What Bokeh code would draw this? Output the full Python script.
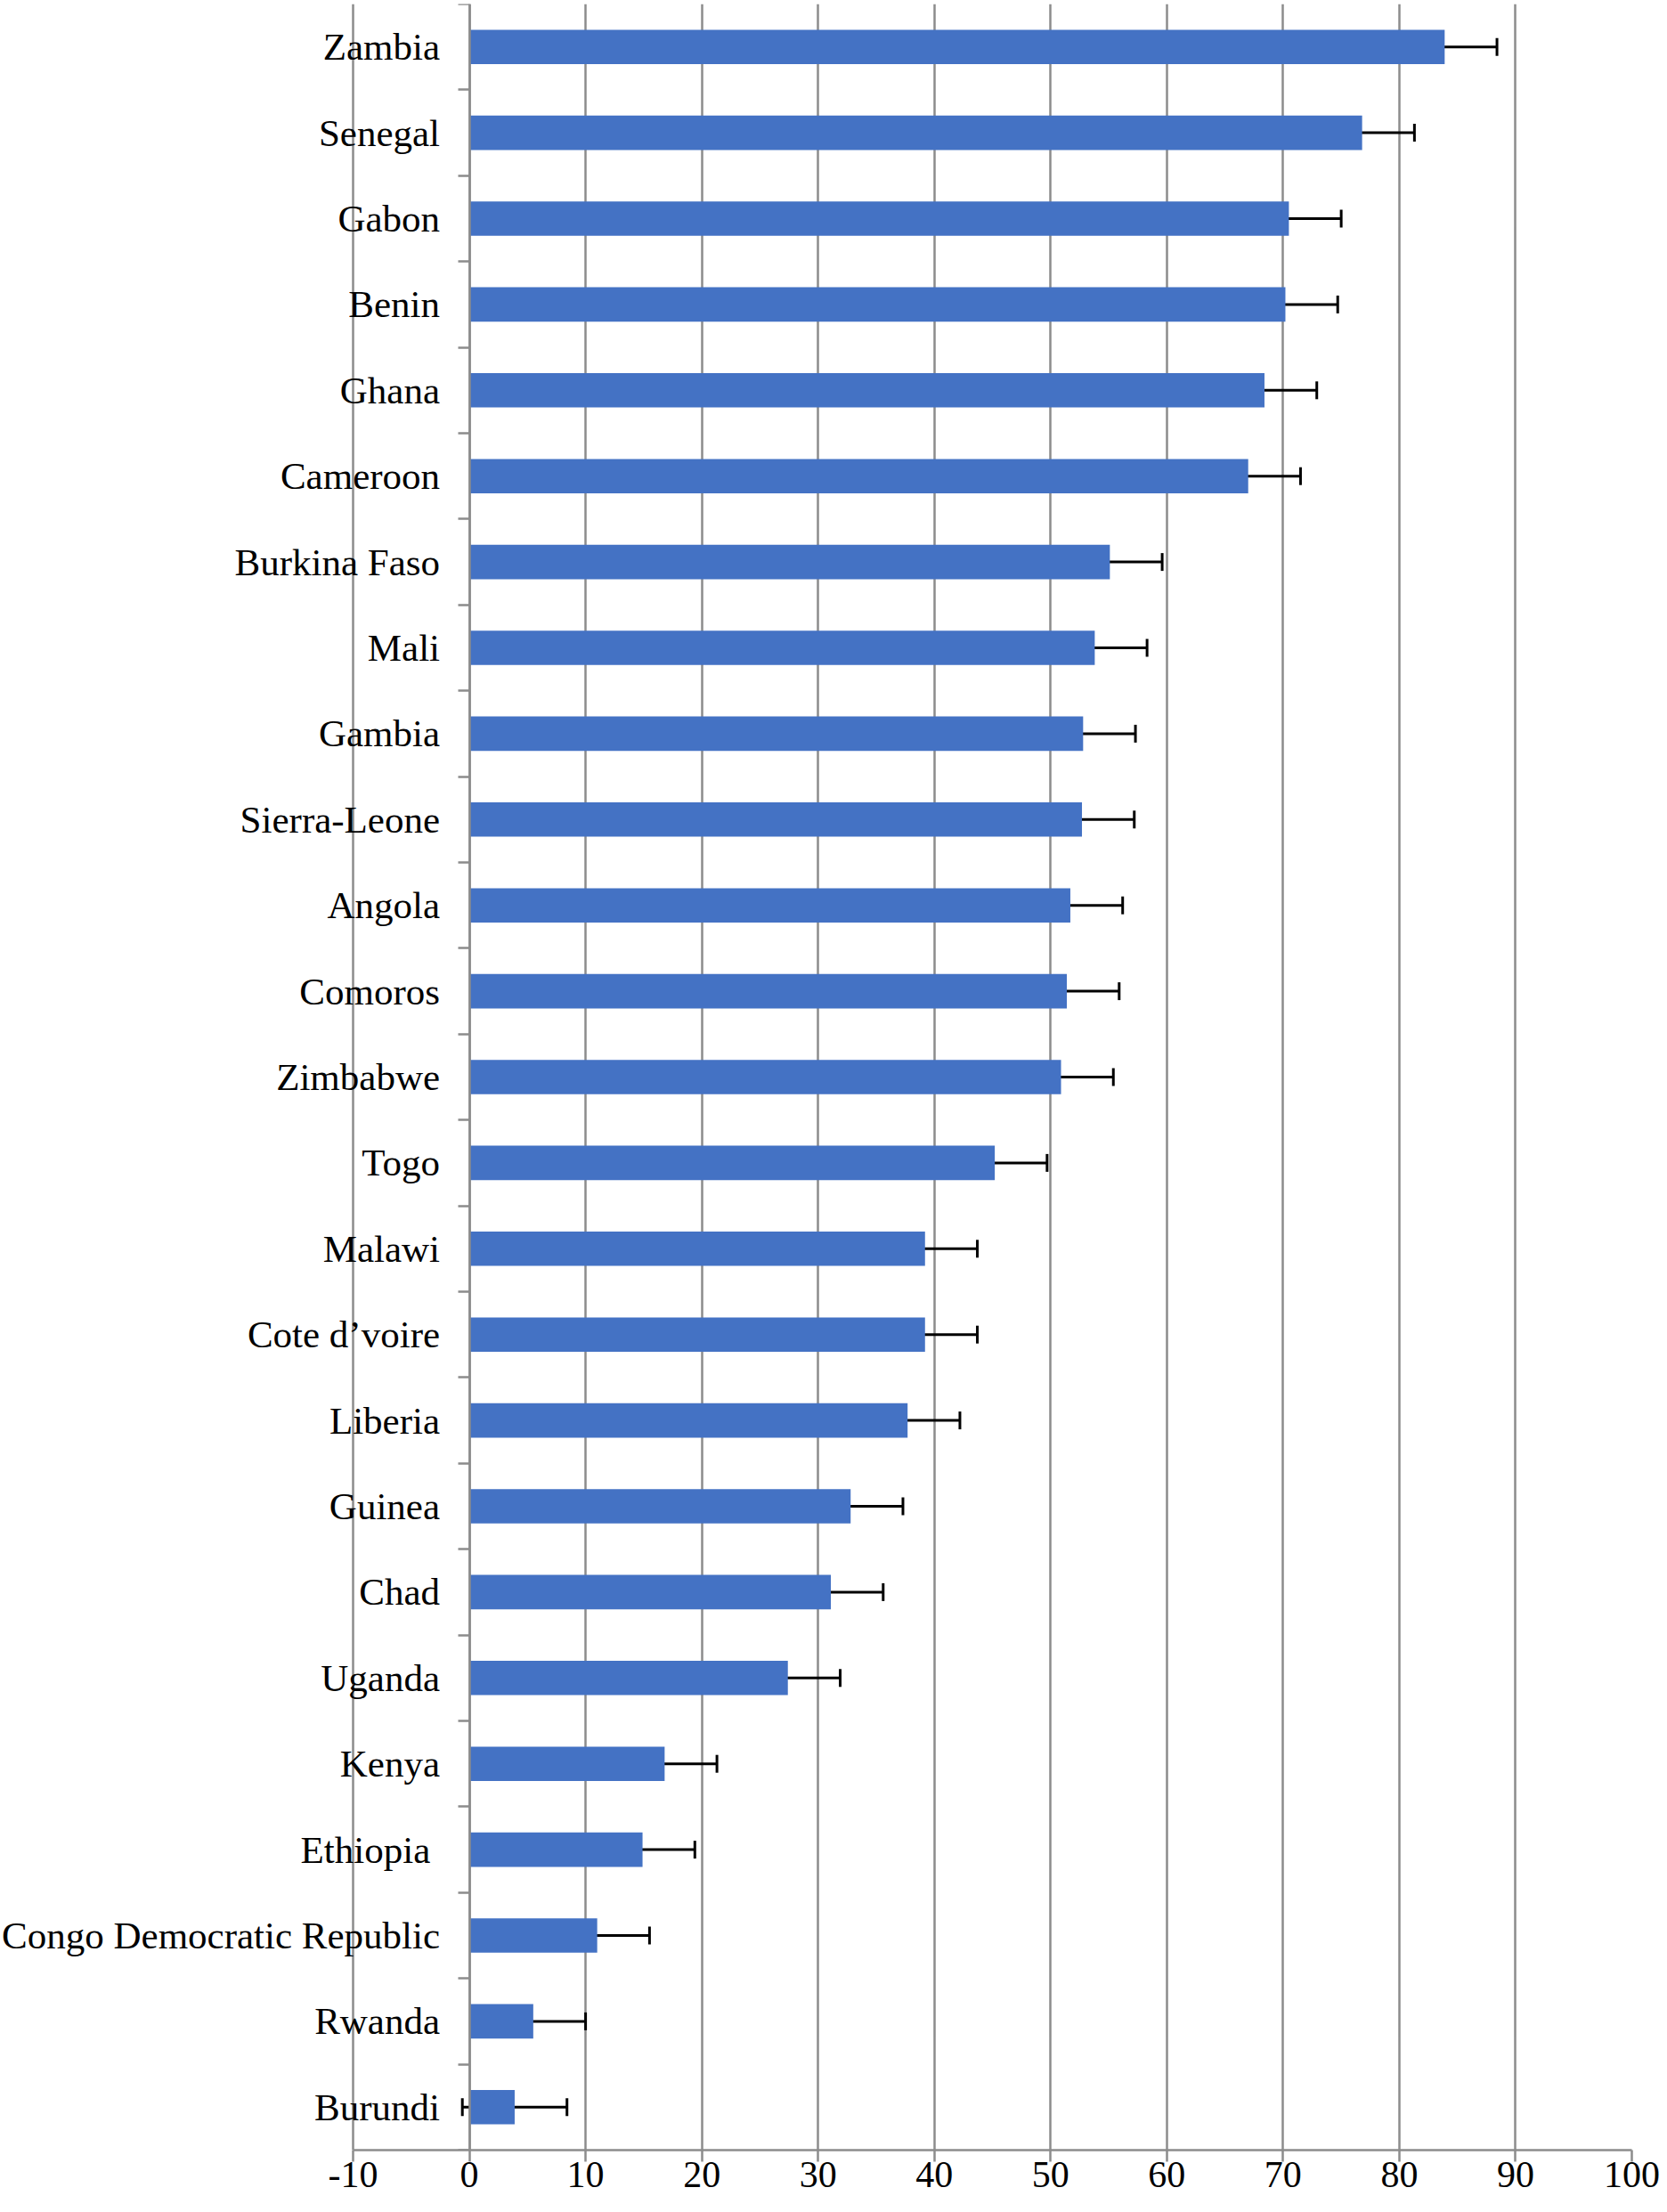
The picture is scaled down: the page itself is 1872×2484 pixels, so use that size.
from bokeh.plotting import figure
from bokeh.models import Range1d, LinearAxis, FixedTicker, Whisker, TeeHead, ColumnDataSource
from bokeh.core.properties import value
from bokeh.embed import file_html
from bokeh.resources import INLINE

countries = ["Zambia", "Senegal", "Gabon", "Benin", "Ghana", "Cameroon", "Burkina Faso",
             "Mali", "Gambia", "Sierra-Leone", "Angola", "Comoros", "Zimbabwe", "Togo",
             "Malawi", "Cote d\u2019voire", "Liberia", "Guinea", "Chad", "Uganda", "Kenya",
             "Ethiopia ", "Congo Democratic Republic", "Rwanda", "Burundi"]
values = [83.9, 76.8, 70.5, 70.2, 68.4, 67.0, 55.1,
          53.8, 52.8, 52.7, 51.7, 51.4, 50.9, 45.2,
          39.2, 39.2, 37.7, 32.8, 31.1, 27.4, 16.8,
          14.9, 11.0, 5.5, 3.9]
errors = [4.5, 4.5, 4.5, 4.5, 4.5, 4.5, 4.5,
          4.5, 4.5, 4.5, 4.5, 4.5, 4.5, 4.5,
          4.5, 4.5, 4.5, 4.5, 4.5, 4.5, 4.5,
          4.5, 4.5, 4.5, 4.5]
x_ticks = [-10, 0, 10, 20, 30, 40, 50, 60, 70, 80, 90, 100]
x_tick_labels = ["-10", "0", "10", "20", "30", "40", "50", "60", "70", "80", "90", "100"]

n = len(countries)
ys = [n - i - 0.5 for i in range(n)]
src = ColumnDataSource(dict(
    y=ys, val=values, zero=[0] * n, name=countries,
    lo=[v - e for v, e in zip(values, errors)],
    hi=[v + e for v, e in zip(values, errors)],
))

FONT = "Liberation Serif"
GRAY = "#8c8c8c"

W, H = 1864, 2476
LEFT_PAD = 396          # px from frame left edge to the -10 gridline (label area)
RIGHT_BORDER = 32
BOTTOM_BORDER = 62
frame_w = W - RIGHT_BORDER
px_per_unit = (frame_w - LEFT_PAD) / (x_ticks[-1] - x_ticks[0])
x_start = x_ticks[0] - LEFT_PAD / px_per_unit

p = figure(width=W, height=H,
           x_range=Range1d(x_start, x_ticks[-1]), y_range=Range1d(0, n),
           output_backend="svg", toolbar_location=None,
           y_axis_location=None, min_border=0,
           min_border_left=0, min_border_right=RIGHT_BORDER, min_border_top=4,
           min_border_bottom=BOTTOM_BORDER)
p.outline_line_color = None
p.background_fill_color = "white"

p.hbar(y="y", right="val", left=0, height=0.4, source=src,
       fill_color="#4472C4", line_color=None)

p.add_layout(Whisker(source=src, base="y", lower="lo", upper="hi", dimension="width",
                     line_color="black", line_width=3,
                     upper_head=TeeHead(size=20, line_width=3, line_color="black"),
                     lower_head=TeeHead(size=20, line_width=3, line_color="black")))

# category labels
p.text(x="zero", y="y", text="name", source=src, x_offset=-33,
       text_align="right", text_baseline="middle",
       text_font=value(FONT), text_font_size="43px", text_color="black")

# grid
p.ygrid.visible = False
p.xgrid.ticker = FixedTicker(ticks=x_ticks)
p.xgrid.grid_line_color = GRAY
p.xgrid.grid_line_width = 2.5

# x axis
xa = p.xaxis[0]
xa.ticker = FixedTicker(ticks=x_ticks)
xa.bounds = (x_ticks[0], x_ticks[-1])
xa.major_label_overrides = {t: s for t, s in zip(x_ticks, x_tick_labels)}
xa.axis_line_color = GRAY
xa.axis_line_width = 2.5
xa.major_tick_line_color = GRAY
xa.major_tick_line_width = 2.5
xa.major_tick_out = 13
xa.major_tick_in = 0
xa.minor_tick_line_color = None
xa.major_label_text_font = FONT
xa.major_label_text_font_size = "42px"
xa.major_label_text_color = "black"
xa.major_label_standoff = 0

# category axis line with boundary ticks at x = 0
tick_axis = LinearAxis(fixed_location=0,
                       ticker=FixedTicker(ticks=list(range(0, n + 1))),
                       major_label_overrides={i: "" for i in range(0, n + 1)},
                       axis_line_color=GRAY, axis_line_width=2.5,
                       major_tick_line_color=GRAY, major_tick_line_width=2.5,
                       major_tick_out=13, major_tick_in=0,
                       minor_tick_line_color=None)
p.add_layout(tick_axis, "left")

open("out.html", "w").write(file_html(p, INLINE))
